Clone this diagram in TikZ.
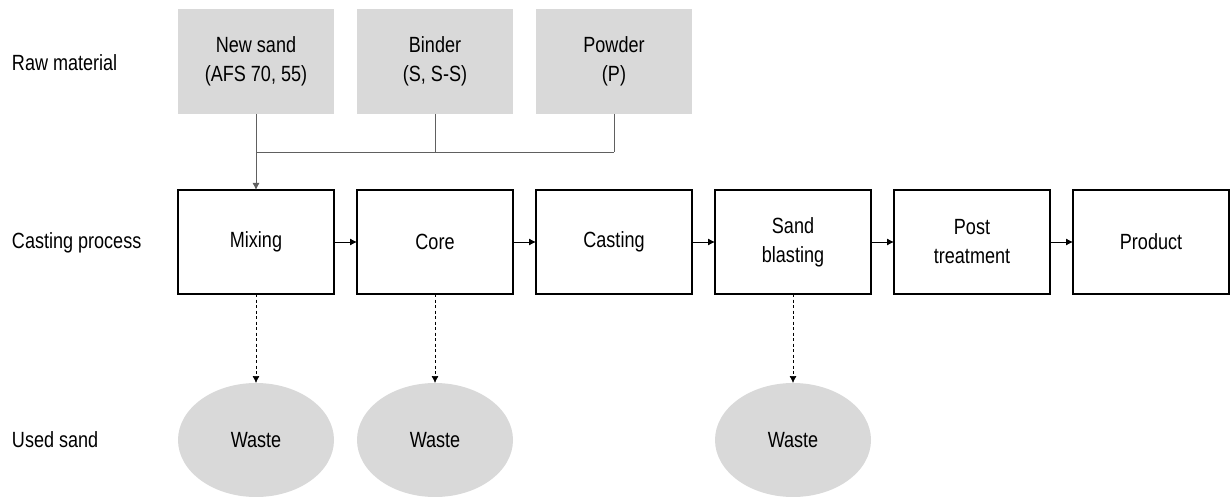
\documentclass[tikz,border=0pt]{standalone}
\usepackage{fontspec}
\setmainfont{Liberation Sans}[FakeStretch=0.82]
\usetikzlibrary{shapes.geometric,arrows.meta}
\definecolor{boxgray}{HTML}{D9D9D9}
\definecolor{linkgray}{HTML}{606060}
\begin{document}
\begin{tikzpicture}[x=1pt,y=-1pt,
  every node/.style={font=\fontsize{22}{29}\selectfont, align=center, inner sep=0pt, outer sep=0pt},
  rawbox/.style={fill=boxgray, minimum width=156pt, minimum height=105pt},
  procbox/.style={draw=black, line width=1.3pt, fill=white, minimum width=156pt, minimum height=104pt},
  wastebox/.style={ellipse, fill=boxgray, minimum width=156pt, minimum height=114pt},
  rowlabel/.style={anchor=west},
  feed/.style={draw=linkgray, line width=0.9pt},
  flow/.style={draw=black, line width=0.9pt, -{Latex[length=7pt,width=7pt]}},
  waste/.style={draw=black, line width=0.7pt, dash pattern=on 3pt off 2.5pt, -{Latex[length=7pt,width=7pt]}}
]
\useasboundingbox (0,0) rectangle (1231,497);

% row labels
\node[rowlabel] (lraw)  at (12,63)  {Raw material};
\node[rowlabel] (lproc) at (12,243) {Casting process};
\node[rowlabel] (lused) at (12,440) {Used sand};

% raw materials
\node[rawbox] (sand)   at (256,61.5) {New sand\\(AFS 70, 55)};
\node[rawbox] (binder) at (435,61.5) {Binder\\(S, S-S)};
\node[rawbox] (powder) at (614,61.5) {Powder\\(P)};

% casting process steps
\node[procbox] (mix)   at (256,242)  {Mixing};
\node[procbox] (core)  at (435,242)  {Core};
\node[procbox] (cast)  at (614,242)  {Casting};
\node[procbox] (blast) at (793,242)  {Sand\\blasting};
\node[procbox] (post)  at (972,242)  {Post\\treatment};
\node[procbox] (prod)  at (1151,242) {Product};

% used sand
\node[wastebox] (w1) at (256,440) {Waste};
\node[wastebox] (w2) at (435,440) {Waste};
\node[wastebox] (w3) at (793,440) {Waste};

% feed lines into mixing
\coordinate (jn) at (256,152);
\draw[feed] (binder.south) -- (binder.south |- jn);
\draw[feed] (powder.south) -- (powder.south |- jn);
\draw[feed] (jn) -- (powder.south |- jn);
\draw[feed, -{Latex[length=7pt,width=7pt]}] (sand.south) -- (mix.north);

% process flow
\draw[flow] (mix) -- (core);
\draw[flow] (core) -- (cast);
\draw[flow] (cast) -- (blast);
\draw[flow] (blast) -- (post);
\draw[flow] (post) -- (prod);

% waste streams
\draw[waste] (mix.south) -- (w1.north);
\draw[waste] (core.south) -- (w2.north);
\draw[waste] (blast.south) -- (w3.north);
\end{tikzpicture}
\end{document}
